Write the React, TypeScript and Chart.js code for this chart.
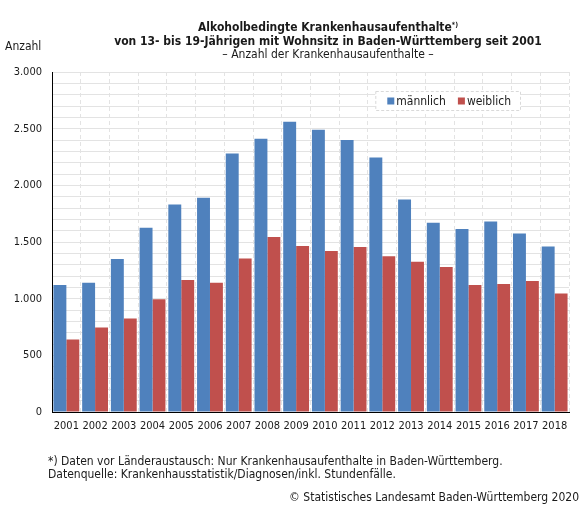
import React, { useEffect, useRef } from "react";
import { Chart, registerables } from "chart.js";

Chart.register(...registerables);

const years = ["2001","2002","2003","2004","2005","2006","2007","2008","2009","2010","2011","2012","2013","2014","2015","2016","2017","2018"];
const maennlich = [1120, 1140, 1350, 1625, 1830, 1890, 2280, 2410, 2560, 2490, 2400, 2245, 1875, 1670, 1615, 1680, 1575, 1460];
const weiblich = [640, 745, 825, 995, 1165, 1140, 1355, 1545, 1465, 1420, 1455, 1375, 1325, 1280, 1120, 1130, 1155, 1045];
const seriesLabels = ["männlich", "weiblich"];
const seriesColors = ["#4f81bd", "#c0504d"];

const FONT = '"DejaVu Sans Condensed", "DejaVu Sans", sans-serif';

const fmt = (v: number) => String(v).replace(/\B(?=(\d{3})+(?!\d))/g, ".");

const boxLegend = {
  id: "boxLegend",
  afterDraw(chart: any) {
    const { ctx, chartArea } = chart;
    ctx.save();
    ctx.font = `12px ${FONT}`;
    const items = chart.data.datasets.map((ds: any) => ({ label: ds.label, color: ds.backgroundColor }));
    const sq = 7, gapSq = 2, gapItem = 12, padL = 12, padR = 10;
    let w = padL + padR;
    items.forEach((it: any, i: number) => {
      w += sq + gapSq + ctx.measureText(it.label).width + (i < items.length - 1 ? gapItem : 0);
    });
    const h = 20;
    const right = chartArea.right - 48;
    const left = right - w;
    const top = chartArea.top + 19;
    ctx.fillStyle = "#ffffff";
    ctx.fillRect(left, top, w, h);
    ctx.setLineDash([3, 2]);
    ctx.strokeStyle = "#d9d9d9";
    ctx.lineWidth = 1;
    ctx.strokeRect(left + 0.5, top + 0.5, w - 1, h - 1);
    ctx.setLineDash([]);
    let x = left + padL;
    const cy = top + h / 2;
    ctx.textBaseline = "middle";
    items.forEach((it: any) => {
      ctx.fillStyle = it.color;
      ctx.fillRect(x, cy - sq / 2, sq, sq);
      x += sq + gapSq;
      ctx.fillStyle = "#1a1a1a";
      ctx.fillText(it.label, x, cy + 0.5);
      x += ctx.measureText(it.label).width + gapItem;
    });
    ctx.restore();
  },
};

export default function App() {
  const ref = useRef<HTMLCanvasElement | null>(null);
  useEffect(() => {
    if (!ref.current) return;
    const tickFont = { family: FONT, size: 11 };
    const chart = new Chart(ref.current, {
      type: "bar",
      data: {
        labels: years,
        datasets: [
          { label: seriesLabels[0], data: maennlich, backgroundColor: seriesColors[0], categoryPercentage: 0.9, barPercentage: 1 },
          { label: seriesLabels[1], data: weiblich, backgroundColor: seriesColors[1], categoryPercentage: 0.9, barPercentage: 1 },
        ],
      },
      options: {
        responsive: true,
        maintainAspectRatio: false,
        animation: false,
        layout: { padding: { top: 72, right: 12, bottom: 60, left: 0 } },
        plugins: { legend: { display: false }, tooltip: { enabled: false }, title: { display: false } },
        scales: {
          x: {
            grid: { color: "#e3e3e3", drawTicks: false, offset: true },
            border: { color: "#000", width: 1, dash: [4, 3] },
            ticks: { font: tickFont, color: "#1a1a1a", padding: 8, maxRotation: 0, minRotation: 0, autoSkip: false },
            afterFit: (s: any) => { s.height = 33; },
          },
          y: {
            min: 0,
            max: 3000,
            grid: { color: "#e3e3e3", drawTicks: false },
            border: { color: "#000", width: 1 },
            ticks: {
              stepSize: 100,
              autoSkip: false,
              font: tickFont,
              color: "#1a1a1a",
              padding: 10,
              callback: (v: any) => (Number(v) % 500 === 0 ? fmt(Number(v)) : ""),
            },
            afterFit: (s: any) => { s.width = 52; },
          },
        },
      },
      plugins: [boxLegend],
    });
    return () => chart.destroy();
  }, []);

  const text: React.CSSProperties = { position: "absolute", whiteSpace: "nowrap", fontFamily: FONT, color: "#1a1a1a", fontSize: 12, lineHeight: "14px" };
  return (
    <div style={{ position: "fixed", left: 0, top: 0, width: 581, height: 505, background: "#fff", overflow: "hidden" }}>
      <div style={{ position: "absolute", left: 0, top: 0, width: 581, height: 505 }}>
        <canvas ref={ref} />
      </div>
      <div style={{ ...text, left: 328, top: 20, transform: "translateX(-50%)", fontWeight: "bold" }}>
        Alkoholbedingte Krankenhausaufenthalte<sup style={{ fontSize: 7, verticalAlign: "top", lineHeight: "10px" }}>*)</sup>
      </div>
      <div style={{ ...text, left: 328, top: 34, transform: "translateX(-50%)", fontWeight: "bold" }}>
        von 13- bis 19-Jährigen mit Wohnsitz in Baden-Württemberg seit 2001
      </div>
      <div style={{ ...text, left: 328, top: 47, transform: "translateX(-50%)" }}>
        – Anzahl der Krankenhausaufenthalte –
      </div>
      <div style={{ ...text, left: 5, top: 39 }}>Anzahl</div>
      <div style={{ ...text, left: 48, top: 454 }}>
        *) Daten vor Länderaustausch: Nur Krankenhausaufenthalte in Baden-Württemberg.
      </div>
      <div style={{ ...text, left: 48, top: 467 }}>
        Datenquelle: Krankenhausstatistik/Diagnosen/inkl. Stundenfälle.
      </div>
      <div style={{ ...text, right: 2, top: 490 }}>© Statistisches Landesamt Baden-Württemberg 2020</div>
    </div>
  );
}
